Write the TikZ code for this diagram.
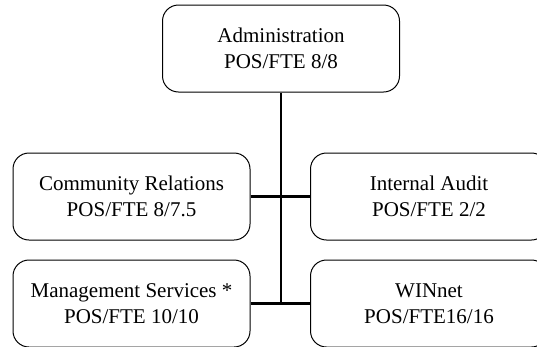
\documentclass[tikz,border=0pt]{standalone}
\usepackage{fontspec}
\setmainfont{Liberation Serif}
\usetikzlibrary{positioning}
\newcommand{\unitfont}{\fontsize{21}{26}\selectfont}

\begin{document}
\begin{tikzpicture}[x=1pt, y=-1pt, node distance=60pt]
% Define styles
\tikzstyle{unit} = [rectangle, rounded corners=16pt, minimum width=237pt, minimum height=87pt, text centered, align=center, draw=black, line width=1pt, font=\unitfont]
\tikzstyle{link} = [draw=black, line width=2.6pt]

\useasboundingbox (0,0) rectangle (537,346);
\clip (0,0) rectangle (537,346);

% Nodes
\node (admin) [unit] at (281,48.5) {Administration\\POS/FTE 8/8};
\node (comm) [unit, below=60pt of admin, xshift=-149.5pt] {Community Relations\\POS/FTE 8/7.5};
\node (mgmt) [unit, below=19pt of comm] {Management Services *\\POS/FTE 10/10};
\node (audit) [unit, below=60pt of admin, xshift=148pt] {Internal Audit\\POS/FTE 2/2};
\node (winnet) [unit, below=19pt of audit] {WINnet\\POS/FTE16/16};

% Lines
\draw[link] (admin.south) -- (admin.south |- mgmt.east);
\draw[link] (comm.east) -- (audit.west);
\draw[link] (mgmt.east) -- (winnet.west);
\end{tikzpicture}
\end{document}
